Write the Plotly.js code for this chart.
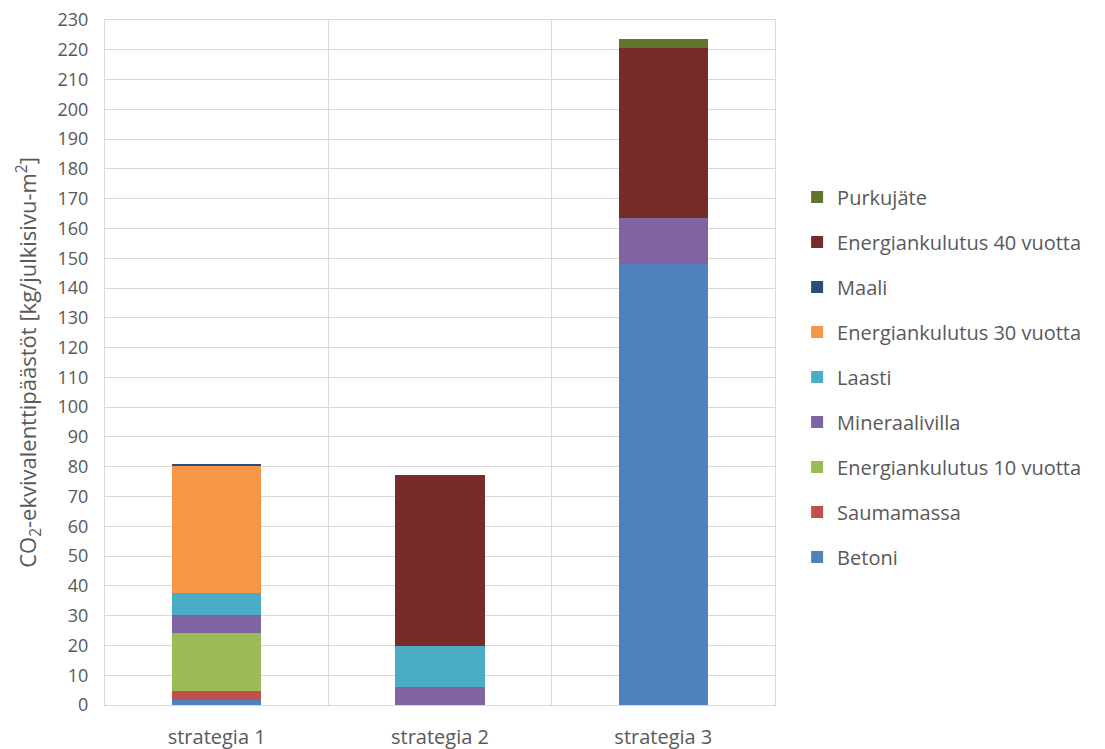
<!DOCTYPE html>
<html><head><meta charset="utf-8">
<script src="https://cdn.plot.ly/plotly-3.0.1.min.js"></script>
<style>body{margin:0;background:#fff}#chart{width:1105px;height:749px}</style>
</head><body><div id="chart"></div>
<script>
const categories = ["strategia 1", "strategia 2", "strategia 3"];
const seriesNames = ["Betoni", "Saumamassa", "Energiankulutus 10 vuotta", "Mineraalivilla", "Laasti", "Energiankulutus 30 vuotta", "Maali", "Energiankulutus 40 vuotta", "Purkujäte"];
const betoni = [1.7, 0, 148.0];
const saumamassa = [3.1, 0, 0];
const energia10 = [19.3, 0, 0];
const mineraalivilla = [6.2, 6.2, 15.5];
const laasti = [7.2, 13.6, 0];
const energia30 = [42.8, 0, 0];
const maali = [0.5, 0, 0];
const energia40 = [0, 57.4, 57.0];
const purkujate = [0, 0, 3.1];
const seriesValues = [betoni, saumamassa, energia10, mineraalivilla, laasti, energia30, maali, energia40, purkujate];
const colors = ["#4F81BD", "#C0504D", "#9BBB59", "#8064A2", "#4BACC6", "#F79646", "#2C4D75", "#772C2A", "#5F7530"];
const yTicks = [0,10,20,30,40,50,60,70,80,90,100,110,120,130,140,150,160,170,180,190,200,210,220,230];

const traces = seriesNames.map((n, i) => ({
  type: "bar", name: n, x: categories, y: seriesValues[i],
  marker: {color: colors[i], line: {width: 0}},
  legendgroup: "g" + i, legendrank: 20 - i, hoverinfo: "name+y"
}));

const gray = "#595959";
const layout = {
  width: 1105, height: 749,
  margin: {l: 105, r: 330, t: 20, b: 44},
  barmode: "stack", bargap: 0.6,
  paper_bgcolor: "#fff", plot_bgcolor: "#fff",
  font: {family: "Open Sans, Lato, sans-serif", color: gray, size: 17},
  xaxis: {
    type: "category", tickson: "boundaries", showgrid: true, gridcolor: "#D9D9D9", gridwidth: 1,
    showline: true, linecolor: "#D9D9D9", mirror: true, ticks: "", ticklen: 0, ticklabelstandoff: 14,
    tickfont: {size: 20, color: gray}
  },
  yaxis: {
    range: [0, 230], tickvals: yTicks, showgrid: true, gridcolor: "#D9D9D9", gridwidth: 1,
    showline: true, linecolor: "#D9D9D9", mirror: true, zeroline: false, ticks: "", ticklabelstandoff: 12,
    tickfont: {size: 18, color: gray},
    title: {text: "CO<sub>2</sub>-ekvivalenttipäästöt [kg/julkisivu-m<sup>2</sup>]", font: {family: "Open Sans, sans-serif", size: 22, color: gray}, standoff: 14}
  },
  legend: {
    x: 1.033, xanchor: "left", y: 0.77, yanchor: "top",
    traceorder: "grouped", tracegroupgap: 16,
    font: {size: 20, color: gray}
  },
  showlegend: true
};
Plotly.newPlot("chart", traces, layout, {displayModeBar: false});
</script></body></html>
